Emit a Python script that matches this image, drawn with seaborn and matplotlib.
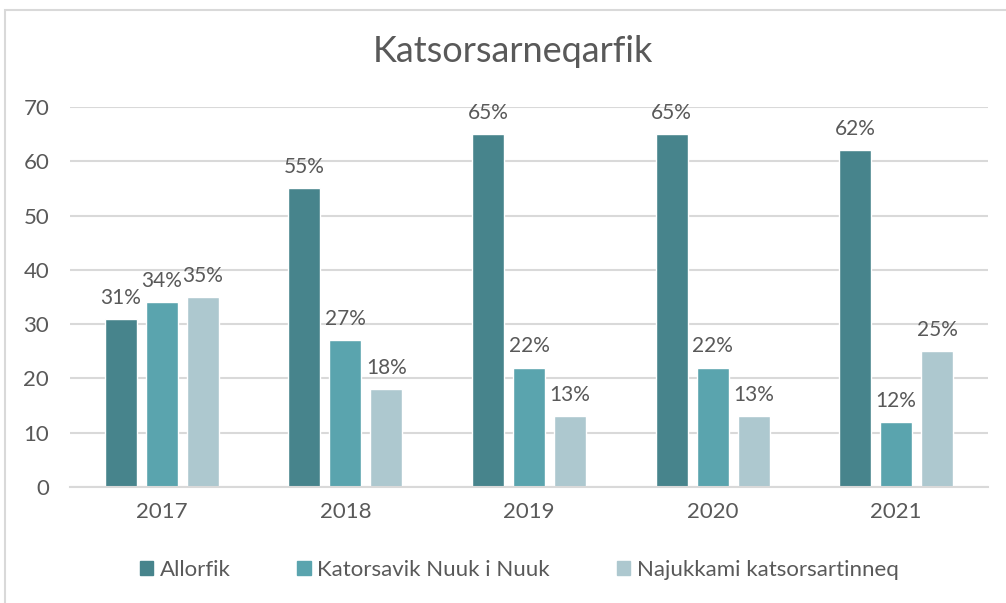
import pandas as pd
import matplotlib.pyplot as plt
import seaborn as sns
from matplotlib.patches import Rectangle

# chart data
years = ["2017", "2018", "2019", "2020", "2021"]
series = ["Allorfik", "Katorsavik Nuuk i Nuuk", "Najukkami katsorsartinneq"]
allorfik = [31, 55, 65, 65, 62]
katorsavik = [34, 27, 22, 22, 12]
najukkami = [35, 18, 13, 13, 25]
colors = ["#47848C", "#5AA4AE", "#ADC8CF"]

df = pd.DataFrame({
    "year": years * 3,
    "series": [series[0]] * 5 + [series[1]] * 5 + [series[2]] * 5,
    "value": allorfik + katorsavik + najukkami,
})

sns.set_style("white")
plt.rcParams["font.family"] = ["Lato", "DejaVu Sans"]
text_col = "#595959"

fig = plt.figure(figsize=(10.06, 6.03), dpi=100)
# outer chart border
fig.patches.append(Rectangle((5 / 1006, -0.1), 1.2, 1 - 10 / 603 + 0.1,
                             transform=fig.transFigure, fill=False,
                             edgecolor="#D9D9D9", linewidth=1.5))

ax = fig.add_axes([70 / 1006, 1 - 487 / 603, 918 / 1006, 380 / 603])
sns.barplot(data=df, x="year", y="value", hue="series", palette=colors,
            width=0.67, gap=0.22, ax=ax, legend=False, saturation=1)

for cont in ax.containers:
    ax.bar_label(cont, labels=[f"{v:.0f}%" for v in cont.datavalues],
                 padding=8, fontsize=15, color=text_col)

ax.set_ylim(0, 70)
ax.set_yticks(range(0, 71, 10))
ax.yaxis.grid(True, color="#D9D9D9", linewidth=1.5)
ax.set_axisbelow(True)
for s in ["top", "right", "left"]:
    ax.spines[s].set_visible(False)
ax.spines["bottom"].set_color("#D9D9D9")
ax.spines["bottom"].set_linewidth(1.5)
ax.tick_params(axis="both", length=0, labelsize=16, colors=text_col)
ax.tick_params(axis="y", pad=15)
ax.tick_params(axis="x", pad=11)
ax.set_xlabel("")
ax.set_ylabel("")

fig.text(0.510, 1 - 52 / 603, "Katsorsarneqarfik", ha="center", va="center",
         fontsize=26, color=text_col)

handles = [Rectangle((0, 0), 1, 1, color=c) for c in colors]
fig.legend(handles, series, loc="center", bbox_to_anchor=(0.516, 1 - 570 / 603),
           ncol=3, frameon=False, fontsize=16, labelcolor=text_col,
           handlelength=0.6, handleheight=0.6, handletextpad=0.3,
           columnspacing=3.0)

plt.savefig("out.png", dpi=100)
